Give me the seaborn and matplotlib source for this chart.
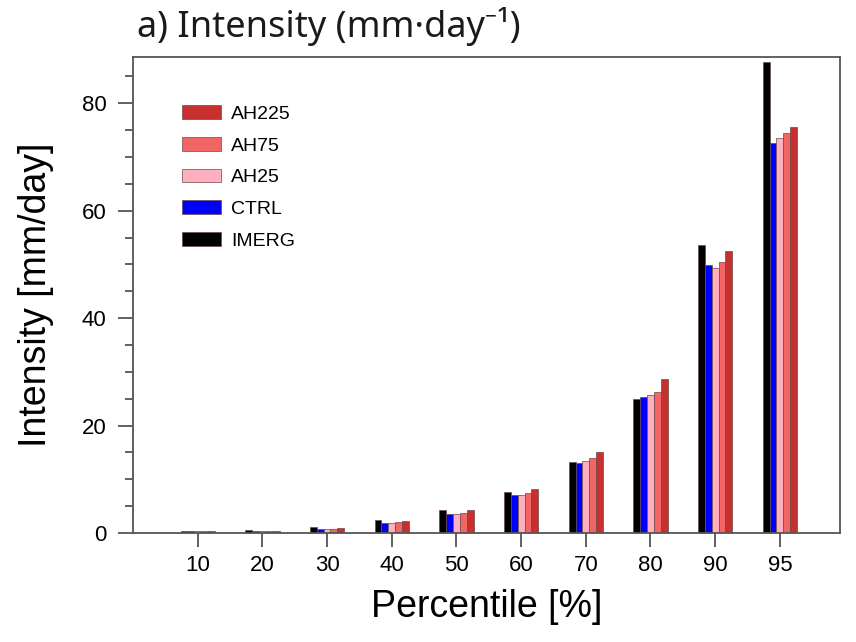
import matplotlib
matplotlib.use("Agg")
import matplotlib.pyplot as plt
import seaborn as sns
import pandas as pd
from matplotlib.ticker import MultipleLocator

percentiles = ["10", "20", "30", "40", "50", "60", "70", "80", "90", "95"]
imerg = [0.3, 0.5, 1.2, 2.4, 4.3, 7.6, 13.3, 24.9, 53.6, 87.6]
ctrl = [0.3, 0.4, 0.8, 1.9, 3.5, 7.1, 13.0, 25.3, 49.8, 72.6]
ah25 = [0.3, 0.35, 0.75, 1.9, 3.5, 7.1, 13.4, 25.7, 49.3, 73.5]
ah75 = [0.3, 0.4, 0.8, 2.0, 3.8, 7.4, 13.9, 26.3, 50.4, 74.4]
ah225 = [0.3, 0.45, 0.9, 2.2, 4.2, 8.2, 15.1, 28.6, 52.5, 75.5]

series_names = ["IMERG", "CTRL", "AH25", "AH75", "AH225"]
series_vals = [imerg, ctrl, ah25, ah75, ah225]
colors = ["#000000", "#0000FF", "#FFB0BE", "#F26565", "#C8302F"]

rows = []
for name, vals in zip(series_names, series_vals):
    for p, v in zip(percentiles, vals):
        rows.append({"Percentile": p, "Model": name, "Value": v})
df = pd.DataFrame(rows)

sns.set_style("white")
fig = plt.figure(figsize=(8.56, 6.42), dpi=100)
ax = fig.add_axes([0.1554, 0.1698, 0.8259, 0.7414])

sns.barplot(data=df, x="Percentile", y="Value", hue="Model",
            order=percentiles, hue_order=series_names,
            palette=dict(zip(series_names, colors)),
            width=0.53, ax=ax, errorbar=None,
            edgecolor="#6a4a4a", linewidth=0.5, saturation=1)

ax.set_xlim(-1.0, 9.93)
ax.set_ylim(0, 88.6)
ax.yaxis.set_major_locator(MultipleLocator(20))
ax.yaxis.set_minor_locator(MultipleLocator(5))

for s in ax.spines.values():
    s.set_color("#555555")
    s.set_linewidth(1.3)

ax.tick_params(axis="both", which="both", direction="out", color="#555555",
               left=True, bottom=True, right=False, top=False, labelcolor="black")
ax.tick_params(axis="y", which="major", length=11, width=1.3, labelsize=16, pad=8)
ax.tick_params(axis="y", which="minor", length=6, width=1.3)
ax.tick_params(axis="x", which="major", length=10, width=1.3, labelsize=16, pad=6)
for lab in ax.get_xticklabels() + ax.get_yticklabels():
    lab.set_family("Liberation Sans")

ax.set_xlabel("Percentile [%]", fontsize=27, family="Liberation Sans", labelpad=9,
              color="black")
ax.set_ylabel("Intensity [mm/day]", fontsize=27, family="Liberation Sans", labelpad=20,
              color="black")

fig.text(0.160, 0.942, "a) Intensity (mm\u00b7day\u207b\u00b9)", fontsize=26,
         family=["Noto Sans", "DejaVu Sans"], ha="left", va="baseline", color="#1a1a1a")

handles, labels = ax.get_legend_handles_labels()
leg = ax.legend(handles[::-1], labels[::-1], loc="upper left",
                bbox_to_anchor=(0.045, 0.935), frameon=False,
                prop={"family": "Liberation Sans", "size": 14},
                handlelength=2.0, handleheight=0.7, labelspacing=0.72,
                handletextpad=0.5)
for t in leg.get_texts():
    t.set_color("black")

fig.savefig("out.png", dpi=100)
